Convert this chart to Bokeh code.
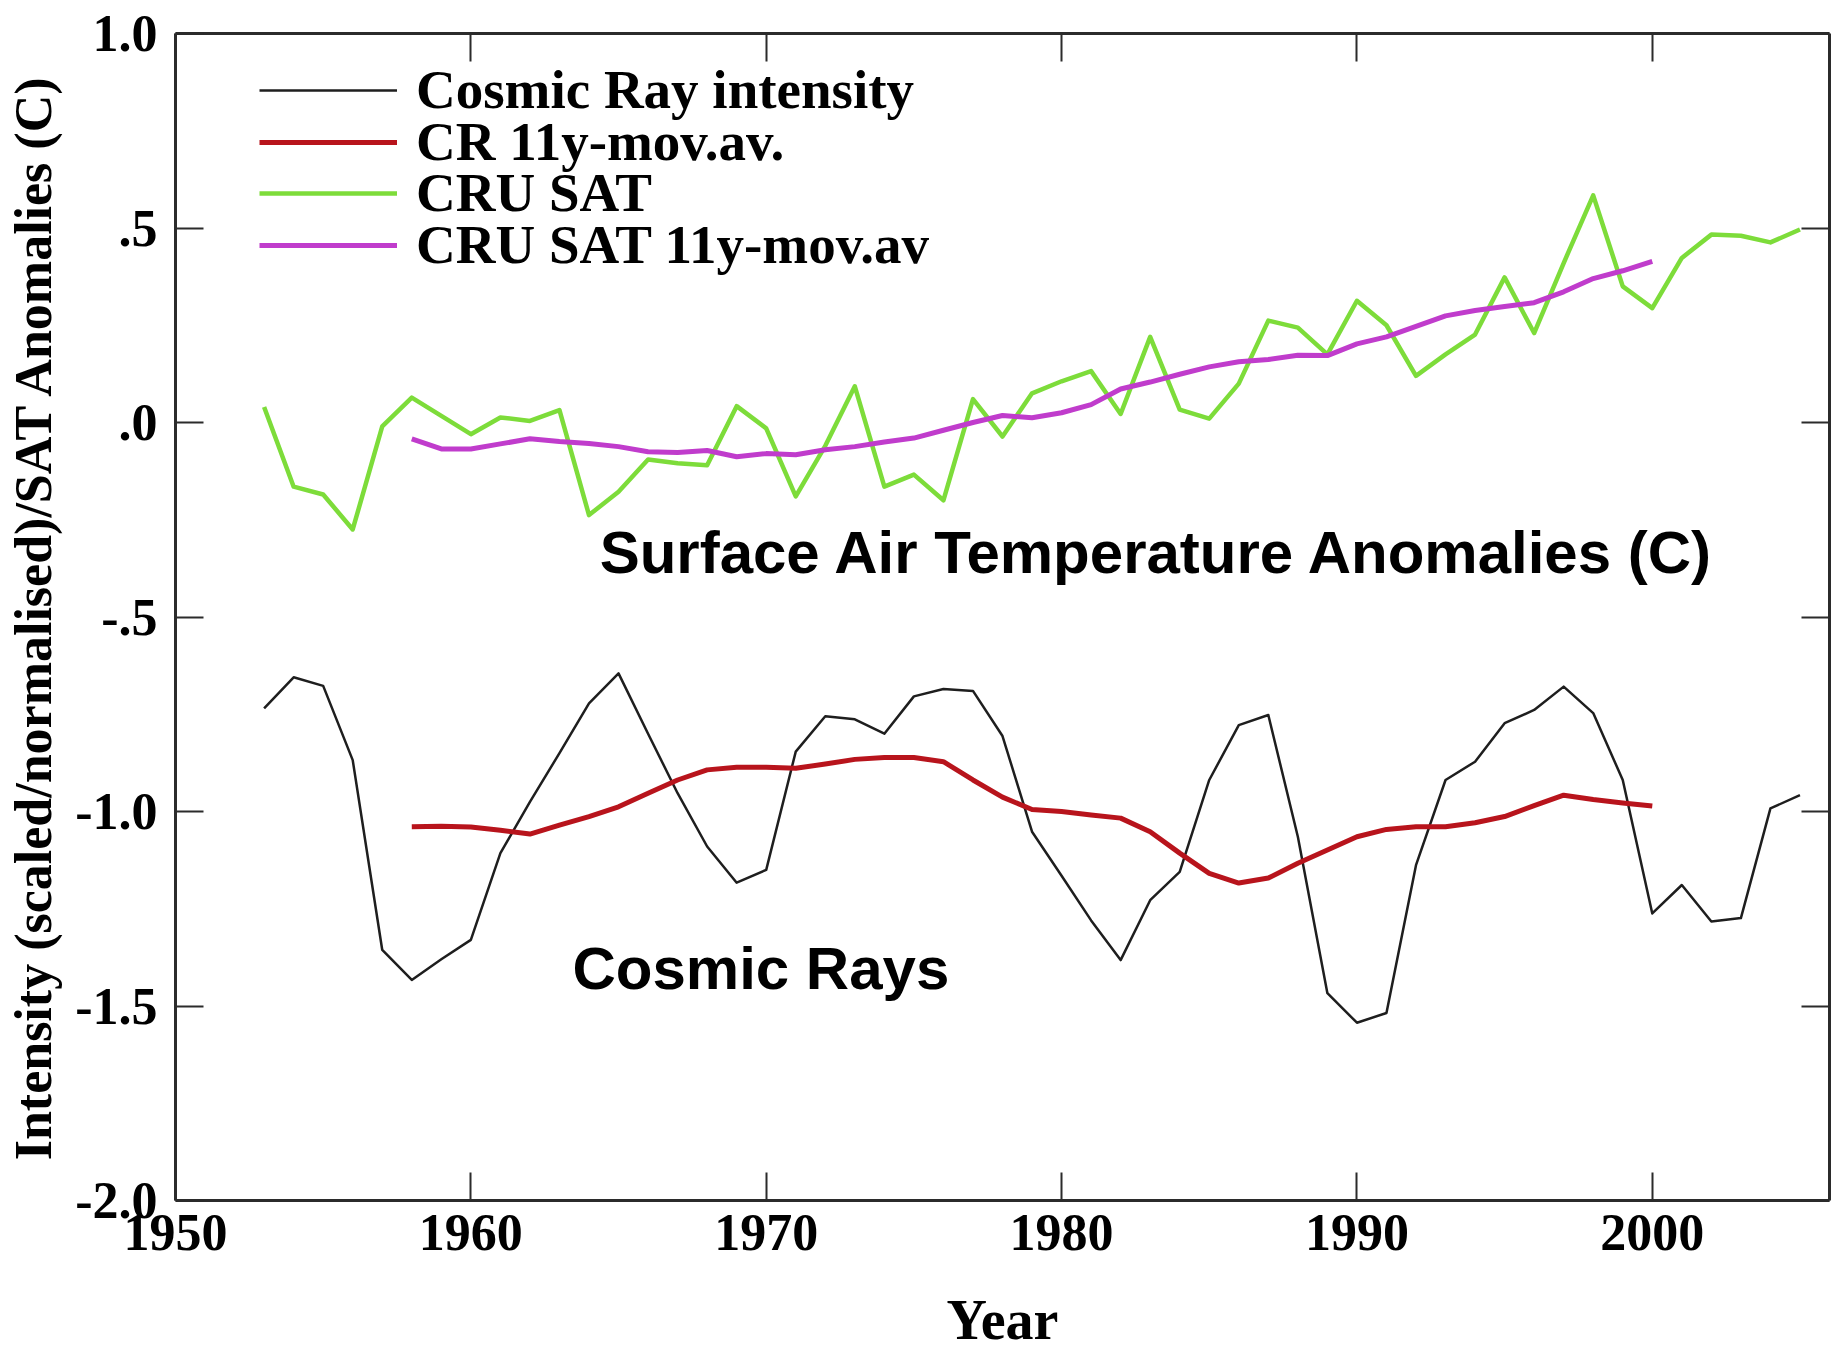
from bokeh.plotting import figure
from bokeh.models import (Range1d, LinearAxis, FixedTicker, Legend, LegendItem, Label)
from bokeh.embed import file_html
from bokeh.resources import INLINE

# ---- data -------------------------------------------------------------
years = list(range(1953, 2006))
years_avg = list(range(1958, 2001))

cosmic_ray = [
    -0.735, -0.655, -0.677, -0.868, -1.356, -1.433, -1.380, -1.330, -1.107, -0.975,
    -0.850, -0.722, -0.645, -0.800, -0.953, -1.090, -1.183, -1.150, -0.846, -0.755,
    -0.763, -0.800, -0.704, -0.685, -0.690, -0.806, -1.052, -1.165, -1.280, -1.382,
    -1.228, -1.155, -0.919, -0.778, -0.752, -1.065, -1.467, -1.543, -1.518, -1.138,
    -0.919, -0.872, -0.773, -0.739, -0.679, -0.747, -0.919, -1.262, -1.189, -1.283,
    -1.274, -0.992, -0.958,
]

cosmic_ray_avg = [
    -1.039, -1.038, -1.040, -1.048, -1.058, -1.035, -1.013, -0.988, -0.953, -0.919,
    -0.893, -0.886, -0.886, -0.889, -0.878, -0.866, -0.861, -0.861, -0.872, -0.919,
    -0.963, -0.995, -1.000, -1.009, -1.017, -1.052, -1.107, -1.159, -1.184, -1.171,
    -1.133, -1.099, -1.065, -1.046, -1.039, -1.039, -1.029, -1.013, -0.985, -0.958,
    -0.969, -0.978, -0.986,
]

cru_sat = [
    0.040, -0.165, -0.185, -0.275, -0.010, 0.064, 0.017, -0.030, 0.013, 0.004,
    0.032, -0.238, -0.178, -0.095, -0.105, -0.110, 0.042, -0.015, -0.190, -0.060,
    0.093, -0.165, -0.134, -0.200, 0.060, -0.036, 0.075, 0.106, 0.132, 0.022,
    0.220, 0.033, 0.010, 0.100, 0.262, 0.244, 0.175, 0.313, 0.250, 0.120,
    0.175, 0.226, 0.373, 0.230, 0.410, 0.584, 0.350, 0.294, 0.423, 0.483,
    0.480, 0.463, 0.496,
]

cru_sat_avg = [
    -0.042, -0.068, -0.068, -0.055, -0.042, -0.049, -0.054, -0.062, -0.075, -0.077,
    -0.072, -0.088, -0.080, -0.083, -0.070, -0.062, -0.050, -0.040, -0.020, 0.000,
    0.018, 0.012, 0.025, 0.046, 0.086, 0.104, 0.124, 0.143, 0.156, 0.162,
    0.173, 0.172, 0.202, 0.220, 0.247, 0.274, 0.288, 0.298, 0.308, 0.336,
    0.370, 0.390, 0.414,
]

x_ticks = [1950, 1960, 1970, 1980, 1990, 2000]
y_ticks = [-2.0, -1.5, -1.0, -0.5, 0.0, 0.5, 1.0]
y_tick_labels = ["-2.0", "-1.5", "-1.0", "-.5", ".0", ".5", "1.0"]

series_names = ["Cosmic Ray intensity", "CR 11y-mov.av.", "CRU SAT", "CRU SAT 11y-mov.av"]

# ---- styling ----------------------------------------------------------
SERIF = "Liberation Serif"
SANS = "Liberation Sans"
AXIS_COLOR = "#2b2b2b"
C_BLACK = "#1e1e1e"
C_RED = "#b8141c"
C_GREEN = "#7ddc3a"
C_MAGENTA = "#c03ccc"

p = figure(
    width=1833, height=1363,
    x_range=Range1d(1950, 2006), y_range=Range1d(-2.0, 1.0),
    output_backend="svg", toolbar_location=None,
    x_axis_location=None, y_axis_location=None,
    min_border_left=175, min_border_right=4, min_border_top=33, min_border_bottom=163,
)
p.xgrid.visible = False
p.ygrid.visible = False
p.outline_line_color = None
p.background_fill_color = "white"
p.border_fill_color = "white"


def style_axis(ax):
    ax.axis_line_color = AXIS_COLOR
    ax.axis_line_width = 3
    ax.major_tick_line_color = AXIS_COLOR
    ax.major_tick_line_width = 2
    ax.major_tick_in = 28
    ax.major_tick_out = 0
    ax.minor_tick_line_color = None
    ax.major_label_text_font = SERIF
    ax.major_label_text_font_style = "bold"
    ax.major_label_text_color = "black"
    ax.major_label_text_font_size = "52px"
    ax.axis_label_text_font = SERIF
    ax.axis_label_text_font_style = "bold"
    ax.axis_label_text_color = "black"


bottom = LinearAxis(ticker=FixedTicker(ticks=x_ticks), axis_label="Year")
style_axis(bottom)
bottom.major_label_standoff = 14
bottom.axis_label_text_font_size = "56px"
bottom.axis_label_text_line_height = 0.7
bottom.axis_label_standoff = 36
p.add_layout(bottom, "below")

# tick marks only on the top and right frame edges
top = LinearAxis(ticker=FixedTicker(ticks=x_ticks))
style_axis(top)
top.major_label_overrides = {t: "" for t in x_ticks}
p.add_layout(top, "above")

left = LinearAxis(ticker=FixedTicker(ticks=y_ticks),
                  axis_label="Intensity (scaled/normalised)/SAT Anomalies (C)")
style_axis(left)
left.major_label_overrides = dict(zip(y_ticks, y_tick_labels))
left.major_label_standoff = 18
left.axis_label_text_font_size = "52px"
left.axis_label_standoff = 10
p.add_layout(left, "left")

right = LinearAxis(ticker=FixedTicker(ticks=y_ticks))
style_axis(right)
right.major_label_overrides = {t: "" for t in y_ticks}
p.add_layout(right, "right")

# ---- series -----------------------------------------------------------
r_cr = p.line(years, cosmic_ray, line_color=C_BLACK, line_width=2.5, line_join="round")
r_cr_avg = p.line(years_avg, cosmic_ray_avg, line_color=C_RED, line_width=5, line_join="round")
r_sat = p.line(years, cru_sat, line_color=C_GREEN, line_width=4.5, line_join="round")
r_sat_avg = p.line(years_avg, cru_sat_avg, line_color=C_MAGENTA, line_width=5, line_join="round")

# one single-entry legend per row, so the rows can sit closer than the text box height
legend_rows_y = [1079, 1027, 976, 924]
for name, rend, ly in zip(series_names, [r_cr, r_cr_avg, r_sat, r_sat_avg], legend_rows_y):
    p.add_layout(Legend(
        items=[LegendItem(label=name, renderers=[rend])],
        location=(84, ly),
        glyph_width=138, glyph_height=48, label_height=48,
        label_standoff=19, spacing=0, padding=0, margin=0,
        label_text_font=SERIF, label_text_font_style="bold",
        label_text_font_size="55px", label_text_color="black",
        border_line_color=None, background_fill_alpha=0,
    ), "center")

p.add_layout(Label(x=1964.36, y=-0.334, text="Surface Air Temperature Anomalies (C)",
                   text_font=SANS, text_font_style="bold", text_font_size="60px",
                   text_baseline="middle", text_align="left", text_color="black"))
p.add_layout(Label(x=1963.44, y=-1.404, text="Cosmic Rays",
                   text_font=SANS, text_font_style="bold", text_font_size="60px",
                   text_baseline="middle", text_align="left", text_color="black"))

open("out.html", "w").write(file_html(p, INLINE))
